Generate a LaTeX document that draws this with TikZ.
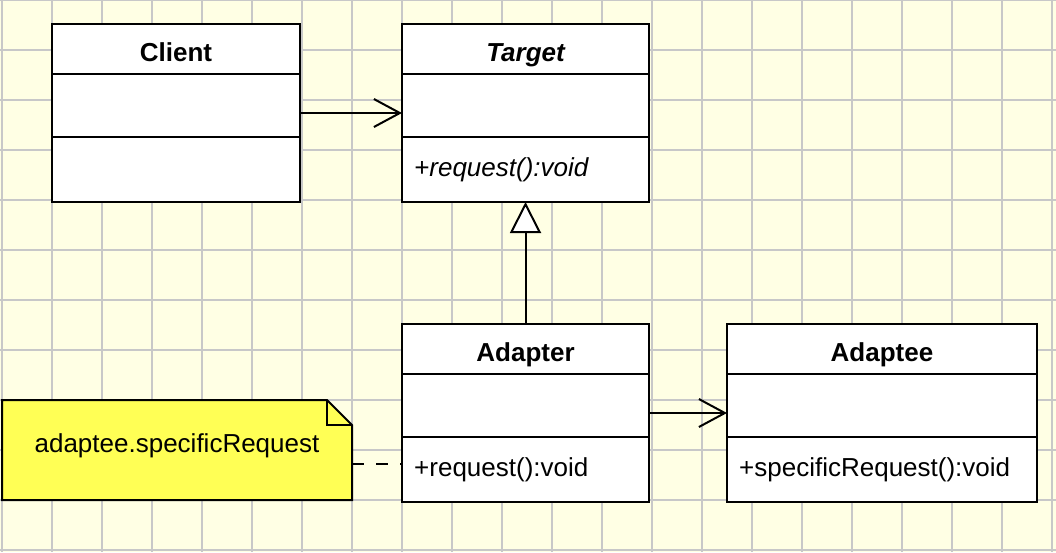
\documentclass[tikz,border=0pt]{standalone}
\usepackage{fontspec}
\setmainfont{Liberation Sans}
\usetikzlibrary{arrows.meta,calc}

\definecolor{paper}{RGB}{255,255,228}
\definecolor{gridgray}{RGB}{200,200,200}
\definecolor{noteyellow}{RGB}{255,255,85}

\tikzset{
  classbox/.style={draw=black, fill=white, line width=2pt, anchor=north west, minimum height=178pt, inner sep=0pt, outer sep=0pt},
  classtitle/.style={font=\fontsize{26}{30}\selectfont\bfseries, anchor=base, inner sep=0pt},
  classop/.style={font=\fontsize{26}{30}\selectfont, anchor=base west, inner sep=0pt},
  divider/.style={line width=1.6pt},
  assoc/.style={line width=2pt, -{Straight Barb[length=26pt, width=28pt, line width=2pt]}},
  realize/.style={line width=2pt, -{Triangle[length=31pt, width=31pt, fill=white, line width=2pt]}},
  notebox/.style={anchor=north west, minimum width=350pt, minimum height=100pt, inner sep=0pt, outer sep=0pt},
  notetext/.style={font=\fontsize{26}{30}\selectfont, anchor=base, inner sep=0pt},
  notelink/.style={line width=2pt, dash pattern=on 12pt off 12pt},
  gridline/.style={draw=gridgray, line width=2pt},
}

% class box: name (x,y) width title operation
\def\umlclass#1(#2,#3)#4#5#6{%
  \node[classbox, minimum width=#4pt] (#1) at (#2,#3) {};
  \node[classtitle] (#1-title) at ([yshift=-37pt]#1.north) {#5};
  \draw[divider] ([yshift=-50pt]#1.north west) -- ([yshift=-50pt]#1.north east);
  \draw[divider] ([yshift=-113pt]#1.north west) -- ([yshift=-113pt]#1.north east);
  \node[classop] (#1-ops) at ([shift={(12pt,-152pt)}]#1.north west) {#6};
}

\begin{document}
\begin{tikzpicture}[x=1pt, y=-1pt]
		%%%%% BACKGROUND %%%%%
		\useasboundingbox (0,0) rectangle (1056,552);
		\fill[paper] (0,0) rectangle (1056,552);
		\foreach \gx in {2,52,...,1052}
			\draw[gridline] (\gx,0) -- (\gx,552);
		\foreach \gy in {0,50,...,550}
			\draw[gridline] (0,\gy) -- (1056,\gy);
		
		%%%%% CLASSES %%%%%
		\umlclass{client}(52,24){248}{Client}{}
		\umlclass{target}(402,24){247}{\itshape Target}{\itshape +request():void}
		\umlclass{adapter}(402,324){247}{Adapter}{+request():void}
		\umlclass{adaptee}(727,324){310}{Adaptee}{+specificRequest():void}
		
		%%%%% NOTE %%%%%
		\node[notebox] (note) at (2,400) {};
		\filldraw[fill=noteyellow, line width=2pt] (note.north west) -- ([xshift=-25pt]note.north east) -- ([yshift=-25pt]note.north east) -- (note.south east) -- (note.south west) -- cycle;
		\draw[line width=2pt] ([xshift=-25pt]note.north east) |- ([yshift=-25pt]note.north east);
		\node[notetext] (note-text) at ([yshift=-52pt]note.north) {adaptee.specificRequest};
		
		%%%%% RELATIONS %%%%%
		\draw[assoc] (client) -- (target);
		\draw[realize] (adapter) -- (target);
		\draw[assoc] (adapter) -- (adaptee);
		\draw[notelink] ([yshift=-14pt]note.east) -- ([yshift=-14pt]note.east -| adapter.west);
\end{tikzpicture}
\end{document}
